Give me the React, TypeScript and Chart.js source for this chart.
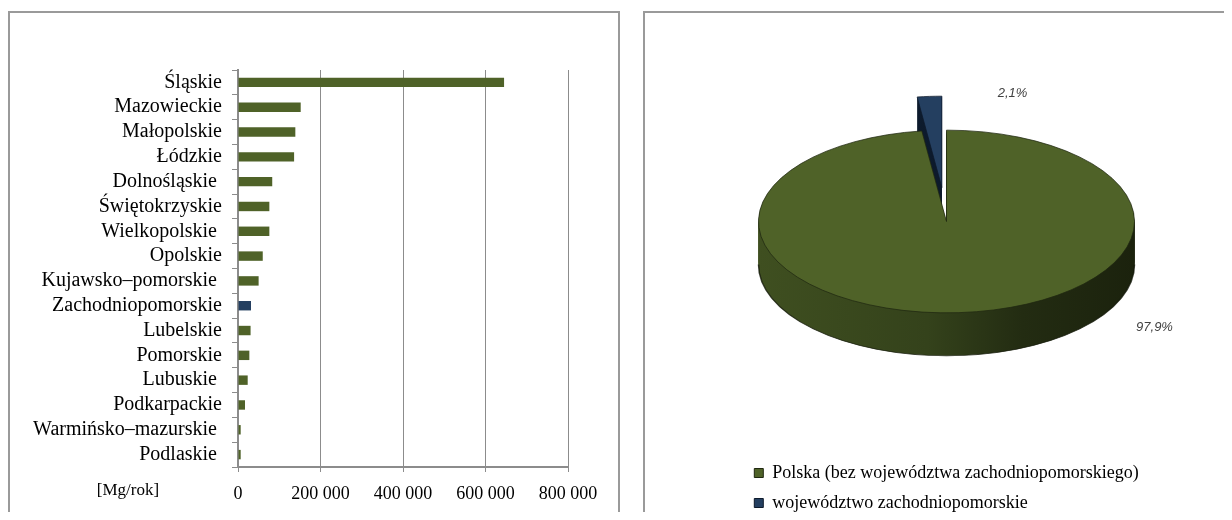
import React, { useEffect, useRef } from 'react';
import { Chart, registerables } from 'chart.js';

Chart.register(...registerables);

// ---------- data ----------
const regions = [
  'Śląskie',
  'Mazowieckie',
  'Małopolskie',
  'Łódzkie',
  'Dolnośląskie ',
  'Świętokrzyskie',
  'Wielkopolskie ',
  'Opolskie',
  'Kujawsko–pomorskie ',
  'Zachodniopomorskie',
  'Lubelskie',
  'Pomorskie',
  'Lubuskie ',
  'Podkarpackie',
  'Warmińsko–mazurskie ',
  'Podlaskie ',
];
const emissions = [
  645000, 152000, 139000, 136000, 83000, 76000, 76000, 60000, 50000, 31500, 30500, 27500, 23500, 17000,
  6500, 6500,
];
const highlightRegion = 'Zachodniopomorskie';
const xTickLabels = ['0', '200 000', '400 000', '600 000', '800 000'];
const unitLabel = '[Mg/rok]';

const pieLabels = ['Polska (bez województwa zachodniopomorskiego)', 'województwo zachodniopomorskie'];
const pieShares = [97.9, 2.1];

// ---------- styles ----------
const GREEN = '#4f6228';
const BLUE = '#243f60';
const SERIF = "'Liberation Serif', 'Times New Roman', serif";
const SANS = "'Liberation Sans', Arial, sans-serif";
const GRID = '#8c8c8c';

const unitPlugin = {
  id: 'unitLabel',
  afterDraw(chart: any, _a: any, opts: any) {
    const { ctx, chartArea } = chart;
    const xs = chart.scales.x;
    ctx.save();
    ctx.font = `17px ${SERIF}`;
    ctx.fillStyle = '#000';
    ctx.textAlign = 'center';
    ctx.textBaseline = 'middle';
    ctx.fillText(opts.text, chartArea.left + opts.dx, xs.top + opts.dy);
    ctx.restore();
  },
};

const pie3dPlugin = {
  id: 'pie3d',
  beforeDatasetsDraw(chart: any, _a: any, opts: any) {
    const ctx = chart.ctx;
    const arcs = chart.getDatasetMeta(0).data;
    if (!arcs.length) return;
    const cx = arcs[0].x;
    const cy = arcs[0].y;
    const r = arcs[0].outerRadius;
    const k = opts.tilt;
    const shift = (arc: any, i: number) => {
      const mid = (arc.startAngle + arc.endAngle) / 2;
      const e = opts.explode[i] || 0;
      return [Math.cos(mid) * e, Math.sin(mid) * e];
    };
    const tilted = (dy: number, ox: number, oy: number, fn: () => void) => {
      ctx.save();
      ctx.translate(cx, cy + dy);
      ctx.scale(1, k);
      ctx.translate(-cx, -cy);
      ctx.translate(ox, oy);
      fn();
      ctx.restore();
    };
    const order: number[] = opts.order;
    order.forEach((i) => {
      const arc = arcs[i];
      const [ox, oy] = shift(arc, i);
      const g = ctx.createLinearGradient(cx - r, 0, cx + r, 0);
      opts.sideColors[i].forEach((c: [number, string]) => g.addColorStop(c[0], c[1]));
      for (let d = opts.depth; d >= 1; d -= 1) {
        tilted(d, ox, oy, () => {
          ctx.beginPath();
          ctx.moveTo(arc.x, arc.y);
          ctx.arc(arc.x, arc.y, arc.outerRadius, arc.startAngle, arc.endAngle);
          ctx.closePath();
          ctx.fillStyle = g;
          ctx.fill();
        });
      }
      tilted(opts.depth, ox, oy, () => {
        ctx.beginPath();
        ctx.arc(arc.x, arc.y, arc.outerRadius, Math.max(arc.startAngle, 0), Math.min(arc.endAngle, Math.PI));
        ctx.strokeStyle = 'rgba(20,25,10,0.8)';
        ctx.lineWidth = 1.5;
        if (arc.endAngle > 0 && arc.startAngle < Math.PI) ctx.stroke();
      });
    });
    order.forEach((i) => {
      const arc = arcs[i];
      const [ox, oy] = shift(arc, i);
      tilted(0, ox, oy, () => arc.draw(ctx));
    });
    return false;
  },
};

const pieLabelPlugin = {
  id: 'pieLabels',
  afterDraw(chart: any, _a: any, opts: any) {
    const ctx = chart.ctx;
    const arcs = chart.getDatasetMeta(0).data;
    if (!arcs.length) return;
    const values = chart.data.datasets[0].data as number[];
    ctx.save();
    ctx.font = `italic 13px ${SANS}`;
    ctx.fillStyle = '#404040';
    ctx.textAlign = 'center';
    ctx.textBaseline = 'middle';
    values.forEach((v, i) => {
      const [ox, oy] = opts.offsets[i];
      ctx.fillText(v.toFixed(1).replace('.', ',') + '%', arcs[0].x + ox, arcs[0].y + oy);
    });
    ctx.restore();
  },
};

const legendAlignPlugin = {
  id: 'legendAlign',
  beforeDraw(chart: any) {
    const lg = chart.legend;
    if (lg && Array.isArray(lg.lineWidths) && lg.lineWidths.length > 1) {
      const m = Math.max(...lg.lineWidths);
      lg.lineWidths = lg.lineWidths.map(() => m);
    }
  },
};

export default function App() {
  const barRef = useRef<HTMLCanvasElement>(null);
  const pieRef = useRef<HTMLCanvasElement>(null);

  useEffect(() => {
    const barColors = regions.map((r) => (r.trim() === highlightRegion ? BLUE : GREEN));

    const bar = new Chart(barRef.current as HTMLCanvasElement, {
      type: 'bar',
      data: {
        labels: regions,
        datasets: [
          {
            data: emissions,
            backgroundColor: barColors,
            borderWidth: 0,
            barPercentage: 0.38,
            categoryPercentage: 1,
          },
        ],
      },
      options: {
        indexAxis: 'y',
        animation: false,
        responsive: false,
        devicePixelRatio: 1,
        events: [],
        layout: { padding: { top: 57, right: 50, left: 0, bottom: 0 } },
        plugins: {
          legend: { display: false },
          tooltip: { enabled: false },
          unitLabel: { text: unitLabel, dx: -110, dy: 24 },
        } as any,
        scales: {
          x: {
            min: 0,
            max: 800000,
            ticks: {
              stepSize: 200000,
              maxRotation: 0,
              padding: 11,
              color: '#000',
              font: { family: SERIF, size: 18 },
              callback: (_v: any, i: number) => xTickLabels[i],
            },
            grid: { color: GRID, lineWidth: 1, tickLength: 5 },
            border: { color: GRID, width: 2 },
            afterFit: (s: any) => {
              s.height = 53;
            },
          },
          y: {
            ticks: {
              autoSkip: false,
              padding: 10,
              color: '#000',
              font: { family: SERIF, size: 20 },
            },
            grid: { offset: true, drawOnChartArea: false, color: GRID, lineWidth: 1, tickLength: 6 },
            border: { color: GRID, width: 2 },
            afterFit: (s: any) => {
              s.width = 228;
            },
          },
        },
      },
      plugins: [unitPlugin],
    });

    const pie = new Chart(pieRef.current as HTMLCanvasElement, {
      type: 'pie',
      data: {
        labels: pieLabels,
        datasets: [
          {
            data: pieShares,
            backgroundColor: [GREEN, BLUE],
            borderColor: ['#1f2710', '#0d1a2b'],
            borderWidth: 1,
          },
        ],
      },
      options: {
        animation: false,
        responsive: false,
        devicePixelRatio: 1,
        events: [],
        radius: 188,
        layout: { padding: { top: 0, left: 16, right: 0, bottom: 1 } },
        plugins: {
          tooltip: { enabled: false },
          legend: {
            position: 'bottom',
            align: 'center',
            labels: {
              boxWidth: 9,
              boxHeight: 9,
              padding: 12,
              color: '#000',
              font: { family: SERIF, size: 18 },
            },
          },
          pie3d: {
            tilt: 0.486,
            depth: 43,
            explode: [0, 70],
            order: [1, 0],
            sideColors: [
              [
                [0, '#3f4f20'],
                [0.45, '#34421b'],
                [0.7, '#232c12'],
                [1, '#1b220d'],
              ],
              [
                [0, '#0f1f33'],
                [1, '#0a1524'],
              ],
            ],
          },
          pieLabels: { offsets: [[208, 106], [66, -128]] },
        } as any,
      },
      plugins: [legendAlignPlugin, pie3dPlugin, pieLabelPlugin],
    });

    return () => {
      bar.destroy();
      pie.destroy();
    };
  }, []);

  const panel: React.CSSProperties = {
    position: 'absolute',
    top: 3,
    height: 520,
    border: '2px solid #9a9a9a',
    borderBottom: 'none',
    background: '#fff',
    overflow: 'hidden',
  };

  return (
    <div style={{ position: 'relative', width: 1216, height: 504 }}>
      <style>{'html,body{overflow:hidden}'}</style>
      <div style={{ ...panel, left: 0, width: 608 }}>
        <canvas ref={barRef} width={608} height={507} style={{ display: 'block' }} />
      </div>
      <div style={{ ...panel, left: 635, width: 620 }}>
        <canvas ref={pieRef} width={587} height={532} style={{ display: 'block', marginTop: -22 }} />
      </div>
    </div>
  );
}
